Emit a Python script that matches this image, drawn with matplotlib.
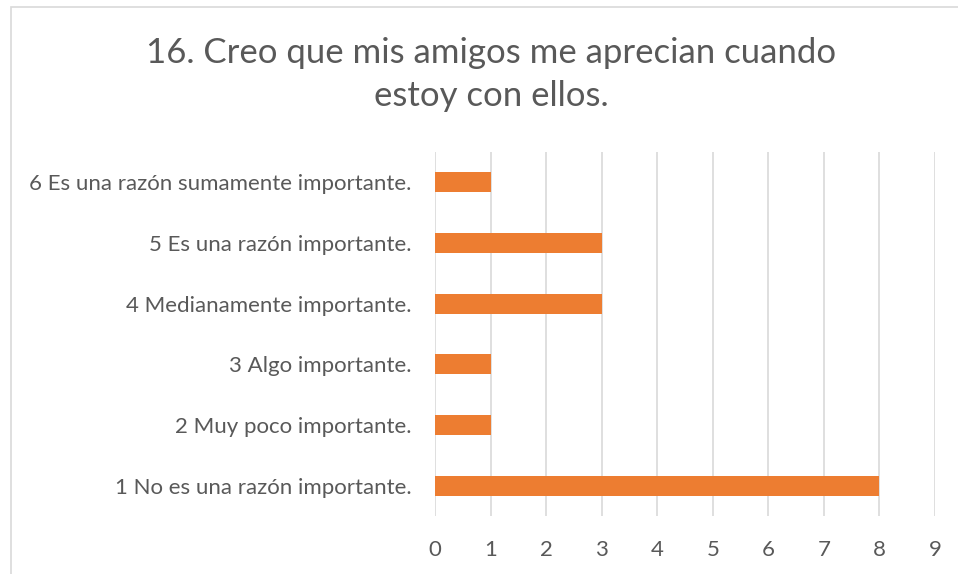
import matplotlib.pyplot as plt
from matplotlib.patches import Rectangle

# Data
categories = [
    '1 No es una razón importante.',
    '2 Muy poco importante.',
    '3 Algo importante.',
    '4 Medianamente importante.',
    '5 Es una razón importante.',
    '6 Es una razón sumamente importante.',
]
counts = [8, 1, 1, 3, 3, 1]
x_ticks = list(range(0, 10))

TEXT_COLOR = '#595959'
BAR_COLOR = '#ED7D31'
GRID_COLOR = '#D9D9D9'

plt.rcParams['font.family'] = ['Lato', 'DejaVu Sans']

fig = plt.figure(figsize=(9.58, 5.74), dpi=100)
ax = fig.add_axes([0.4541, 0.1010, 0.5219, 0.6341])

ax.barh(range(len(categories)), counts, height=0.33, color=BAR_COLOR, zorder=3)
ax.set_yticks(range(len(categories)))
ax.set_yticklabels(categories, fontsize=16, color=TEXT_COLOR)
ax.set_xticks(x_ticks)
ax.set_xticklabels([str(t) for t in x_ticks], fontsize=16, color=TEXT_COLOR)
ax.set_xlim(0, 9)
ax.set_ylim(-0.5, 5.5)
ax.tick_params(axis='both', length=0)
ax.tick_params(axis='y', pad=17)
ax.tick_params(axis='x', pad=17)
ax.grid(axis='x', color=GRID_COLOR, linewidth=1.2, zorder=0)
ax.grid(axis='y', visible=False)
for s in ax.spines.values():
    s.set_visible(False)

fig.text(0.513, 0.870, '16. Creo que mis amigos me aprecian cuando\nestoy con ellos.',
         ha='center', va='center', fontsize=25, color=TEXT_COLOR, linespacing=1.43)

# chart border
fig.patches.append(Rectangle((11 / 958, -0.05), 1.1, 1 - 7 / 574 + 0.05,
                             transform=fig.transFigure, fill=False,
                             edgecolor='#D9D9D9', linewidth=1.2))

fig.savefig('out.png', dpi=100)
